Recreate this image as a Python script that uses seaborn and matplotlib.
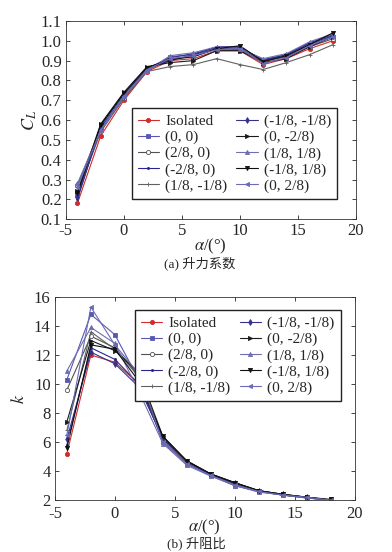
import matplotlib
matplotlib.use('Agg')
import matplotlib.pyplot as plt
import pandas as pd
import seaborn as sns

# angle of attack, deg
alpha = [-4, -2, 0, 2, 4, 6, 8, 10, 12, 14, 16, 18]

labels = ['Isolated', '(0, 0)', '(2/8, 0)', '(-2/8, 0)', '(1/8, -1/8)',
          '(-1/8, -1/8)', '(0, -2/8)', '(1/8, 1/8)', '(-1/8, 1/8)', '(0, 2/8)']

# lift coefficient
cl_iso = [0.18, 0.52, 0.70, 0.845, 0.90, 0.91, 0.95, 0.95, 0.88, 0.91, 0.96, 1.00]
cl_00 = [0.22, 0.55, 0.72, 0.855, 0.92, 0.93, 0.96, 0.96, 0.90, 0.92, 0.98, 1.02]
cl_280 = [0.27, 0.56, 0.71, 0.85, 0.91, 0.92, 0.96, 0.955, 0.895, 0.92, 0.97, 1.01]
cl_m280 = [0.20, 0.57, 0.73, 0.86, 0.90, 0.93, 0.97, 0.97, 0.90, 0.93, 0.99, 1.03]
cl_18m18 = [0.23, 0.54, 0.71, 0.845, 0.87, 0.88, 0.91, 0.88, 0.855, 0.89, 0.93, 0.98]
cl_m18m18 = [0.21, 0.56, 0.72, 0.86, 0.915, 0.935, 0.965, 0.965, 0.905, 0.93, 0.985, 1.025]
cl_0m28 = [0.24, 0.58, 0.74, 0.87, 0.89, 0.90, 0.95, 0.95, 0.89, 0.91, 0.97, 1.02]
cl_1818 = [0.28, 0.55, 0.72, 0.85, 0.925, 0.94, 0.97, 0.96, 0.91, 0.935, 0.995, 1.035]
cl_m1818 = [0.23, 0.575, 0.735, 0.865, 0.905, 0.92, 0.96, 0.975, 0.895, 0.925, 0.98, 1.04]
cl_028 = [0.26, 0.55, 0.72, 0.855, 0.91, 0.925, 0.955, 0.96, 0.885, 0.915, 0.975, 1.02]

# lift-drag ratio
k_iso = [5.2, 12.0, 11.5, 10.0, 6.2, 4.6, 3.7, 3.1, 2.6, 2.35, 2.15, 2.0]
k_00 = [10.3, 14.8, 13.4, 10.3, 6.0, 4.5, 3.7, 3.0, 2.6, 2.35, 2.15, 2.0]
k_280 = [9.6, 13.3, 12.5, 10.6, 6.3, 4.6, 3.75, 3.1, 2.6, 2.35, 2.2, 2.0]
k_m280 = [5.8, 12.5, 11.7, 10.0, 6.2, 4.7, 3.8, 3.2, 2.65, 2.35, 2.2, 2.0]
k_18m18 = [6.8, 13.6, 12.4, 10.5, 6.1, 4.5, 3.7, 3.0, 2.6, 2.35, 2.15, 2.0]
k_m18m18 = [6.2, 12.2, 11.4, 9.8, 6.3, 4.65, 3.75, 3.15, 2.65, 2.4, 2.2, 2.0]
k_0m28 = [7.4, 13.0, 12.3, 10.8, 6.4, 4.7, 3.8, 3.2, 2.65, 2.4, 2.2, 2.0]
k_1818 = [10.9, 13.9, 12.8, 9.5, 5.9, 4.4, 3.65, 3.0, 2.55, 2.35, 2.15, 2.0]
k_m1818 = [5.6, 12.7, 12.4, 10.2, 6.4, 4.7, 3.8, 3.2, 2.65, 2.4, 2.2, 2.05]
k_028 = [6.5, 15.3, 12.7, 10.7, 6.0, 4.5, 3.7, 3.05, 2.6, 2.35, 2.2, 2.0]

cl_all = [cl_iso, cl_00, cl_280, cl_m280, cl_18m18, cl_m18m18, cl_0m28, cl_1818, cl_m1818, cl_028]
k_all = [k_iso, k_00, k_280, k_m280, k_18m18, k_m18m18, k_0m28, k_1818, k_m1818, k_028]

colors = ['#d42a2a', '#5858b4', '#505050', '#26268a', '#606060',
          '#32328c', '#1a1a1a', '#6e6eb0', '#101010', '#6a6ab8']
markers = ['o', 's', 'o', '.', '+', 'd', '>', '^', 'v', '<']
filled = [True, True, False, True, True, True, True, True, True, True]

sns.set_style('ticks')
plt.rcParams['font.family'] = 'serif'
plt.rcParams['font.serif'] = ['Liberation Serif', 'DejaVu Serif']
plt.rcParams['mathtext.fontset'] = 'stix'
plt.rcParams['axes.unicode_minus'] = False
cap_font = ['Liberation Serif', 'Noto Sans CJK SC']

fig = plt.figure(figsize=(3.92, 5.52), dpi=100)
ax1 = fig.add_axes([0.168, 0.603, 0.74, 0.359])
ax2 = fig.add_axes([0.140, 0.094, 0.765, 0.368])


def draw(ax, series):
    for lab, y, c, m, f in zip(labels, series, colors, markers, filled):
        df = pd.DataFrame({'a': alpha, 'v': y})
        sns.lineplot(data=df, x='a', y='v', ax=ax, color=c, marker=m,
                     markersize=3, linewidth=0.8, label=lab,
                     markerfacecolor=c if f else 'white', markeredgecolor=c,
                     markeredgewidth=0.6)
    ax.tick_params(direction='in', top=True, right=True, labelsize=12,
                   length=3, width=0.6)
    ax.tick_params(axis='x', pad=3)
    ax.tick_params(axis='y', pad=3)
    for s in ax.spines.values():
        s.set_linewidth(0.6)
        s.set_color('#333333')


draw(ax1, cl_all)
ax1.set_xlim(-5, 20)
ax1.set_ylim(0.1, 1.1)
ax1.set_xticks([-5, 0, 5, 10, 15, 20])
ax1.set_yticks([0.1, 0.2, 0.3, 0.4, 0.5, 0.6, 0.7, 0.8, 0.9, 1.0, 1.1])
ax1.set_xlabel(r'$\alpha$/(°)', fontsize=12, labelpad=-2)
ax1.set_ylabel(r'$C_L$', fontsize=13, labelpad=1)
ax1.legend(ncol=2, loc='lower right', bbox_to_anchor=(0.962, 0.063),
           fontsize=11, frameon=True, fancybox=False, edgecolor='#222222',
           handlelength=1.4, handletextpad=0.4, columnspacing=0.6,
           labelspacing=0.15, borderpad=0.4, framealpha=1)

draw(ax2, k_all)
ax2.tick_params(axis='x', pad=4.5)
ax2.set_xlim(-5, 20)
ax2.set_ylim(2, 16)
ax2.set_xticks([-5, 0, 5, 10, 15, 20])
ax2.set_yticks([2, 4, 6, 8, 10, 12, 14, 16])
ax2.set_xlabel(r'$\alpha$/(°)', fontsize=12, labelpad=-3)
ax2.set_ylabel(r'$k$', fontsize=13, labelpad=4)
ax2.legend(ncol=2, loc='upper right', bbox_to_anchor=(0.978, 0.972),
           fontsize=11, frameon=True, fancybox=False, edgecolor='#222222',
           handlelength=1.4, handletextpad=0.4, columnspacing=0.6,
           labelspacing=0.15, borderpad=0.4, framealpha=1)

fig.text(0.51, 0.523, '(a) 升力系数', ha='center', va='center', fontsize=9.5,
         family=cap_font)
fig.text(0.50, 0.015, '(b) 升阻比', ha='center', va='center', fontsize=9.5,
         family=cap_font)

fig.savefig('out.png', dpi=100)
